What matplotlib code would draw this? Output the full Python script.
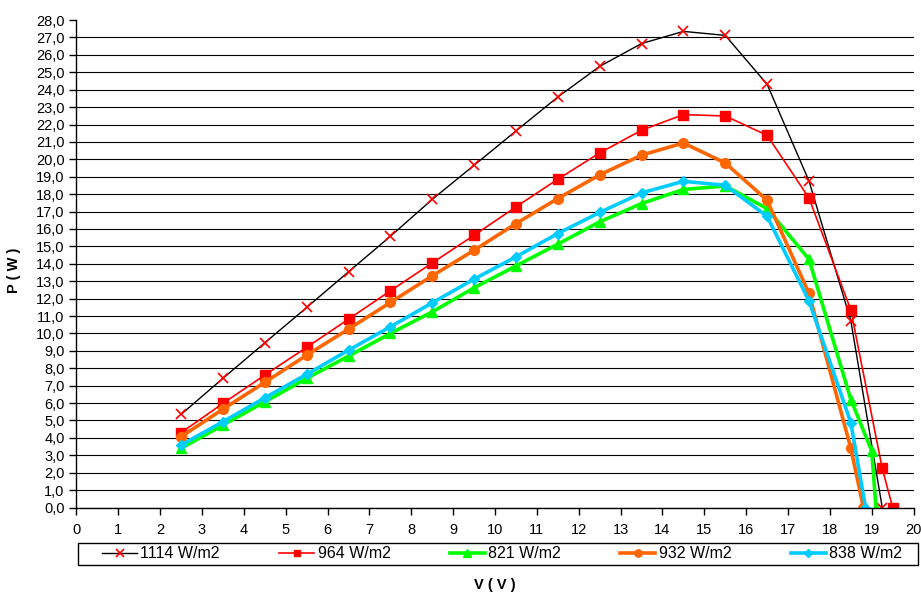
import matplotlib
matplotlib.use('Agg')
import matplotlib.pyplot as plt
from matplotlib.patches import Rectangle
from matplotlib.ticker import FuncFormatter

plt.rcParams['font.family'] = ['Liberation Sans', 'DejaVu Sans']

# measured voltage (V) and power (W) for each irradiance
v_1114 = [2.5, 3.5, 4.5, 5.5, 6.5, 7.5, 8.5, 9.5, 10.5, 11.5, 12.5, 13.5, 14.5, 15.5, 16.5, 17.5, 18.5, 19.25]
p_1114 = [5.35, 7.42, 9.46, 11.49, 13.54, 15.58, 17.7, 19.66, 21.63, 23.58, 25.34, 26.65, 27.35, 27.12, 24.31, 18.76, 10.72, 0.0]

v_964 = [2.5, 3.5, 4.5, 5.5, 6.5, 7.5, 8.5, 9.5, 10.5, 11.5, 12.5, 13.5, 14.5, 15.5, 16.5, 17.5, 18.5, 19.25, 19.5]
p_964 = [4.3, 5.98, 7.61, 9.2, 10.82, 12.45, 14.05, 15.64, 17.27, 18.86, 20.37, 21.67, 22.57, 22.49, 21.38, 17.78, 11.34, 2.25, 0.0]

v_821 = [2.5, 3.5, 4.5, 5.5, 6.5, 7.5, 8.5, 9.5, 10.5, 11.5, 12.5, 13.5, 14.5, 15.5, 16.5, 17.5, 18.5, 19.0, 19.1]
p_821 = [3.4, 4.74, 6.07, 7.42, 8.7, 10.0, 11.24, 12.62, 13.88, 15.13, 16.41, 17.46, 18.27, 18.47, 17.17, 14.26, 6.2, 3.25, 0.0]

v_932 = [2.5, 3.5, 4.5, 5.5, 6.5, 7.5, 8.5, 9.5, 10.5, 11.5, 12.5, 13.5, 14.5, 15.5, 16.5, 17.5, 18.5, 18.8]
p_932 = [4.07, 5.65, 7.19, 8.75, 10.25, 11.78, 13.31, 14.78, 16.31, 17.75, 19.11, 20.24, 20.94, 19.79, 17.65, 12.3, 3.4, 0.0]

v_838 = [2.5, 3.5, 4.5, 5.5, 6.5, 7.5, 8.5, 9.5, 10.5, 11.5, 12.5, 13.5, 14.5, 15.5, 16.5, 17.5, 18.5, 18.85]
p_838 = [3.59, 4.93, 6.3, 7.65, 9.04, 10.38, 11.76, 13.12, 14.4, 15.74, 16.95, 18.07, 18.74, 18.51, 16.73, 11.87, 4.87, 0.0]


def main():
  fig = plt.figure(figsize=(9.21, 5.92), dpi=100)
  ax = fig.add_axes([0.0830, 0.1427, 0.9090, 0.8234])

  ax.plot(v_1114, p_1114, color='black', lw=1.0, marker='x', ms=7, mec='red', mew=1.2, label='1114 W/m2')
  ax.plot(v_964, p_964, color='red', lw=1.2, marker='s', ms=6.5, label='964 W/m2')
  ax.plot(v_821, p_821, color='#00ff00', lw=2.6, marker='^', ms=7, label='821 W/m2')
  ax.plot(v_932, p_932, color='#ff6600', lw=2.6, marker='o', ms=7, label='932 W/m2')
  ax.plot(v_838, p_838, color='#00ccff', lw=2.6, marker='D', ms=5.5, label='838 W/m2')

  ax.set_xlim(0, 20)
  ax.set_ylim(0, 28)
  ax.set_xticks(range(21))
  ax.set_yticks(range(29))
  ax.yaxis.set_major_formatter(FuncFormatter(lambda y, pos: '{:.1f}'.format(y).replace('.', ',')))
  ax.tick_params(direction='out', length=5, width=1, labelsize=10.5, colors='black')
  ax.tick_params(axis='x', pad=6)
  ax.grid(axis='y', color='black', lw=0.8)
  # no gridline on the top value
  ax.get_ygridlines()[-1].set_visible(False)
  ax.set_axisbelow(True)
  for s in ['top', 'right']:
    ax.spines[s].set_visible(False)
  for s in ['left', 'bottom']:
    ax.spines[s].set_linewidth(1)

  fig.text(0.537, 1 - 585/592, 'V ( V )', ha='center', va='center', fontsize=10.5, fontweight='bold')
  fig.text(14/921, 1 - 270/592, 'P ( W )', ha='center', va='center', rotation=90, fontsize=10.5, fontweight='bold')

  # legend box drawn separately, entries spread inside it
  fig.patches.append(Rectangle((78/921, 1 - 565/592), 840/921, 22.5/592, transform=fig.transFigure,
                               fill=False, edgecolor='black', lw=1))
  fig.legend(loc='center left', bbox_to_anchor=(102/921, 1 - 565/592, 800/921, 22.5/592),
             bbox_transform=fig.transFigure, mode='expand', ncol=5, borderaxespad=0,
             frameon=False, fontsize=11.5, handlelength=2.2, handletextpad=0.2,
             borderpad=0, markerscale=0.75)

  fig.savefig('out.png', dpi=100)
  return 0

if __name__ == '__main__':
  main()
